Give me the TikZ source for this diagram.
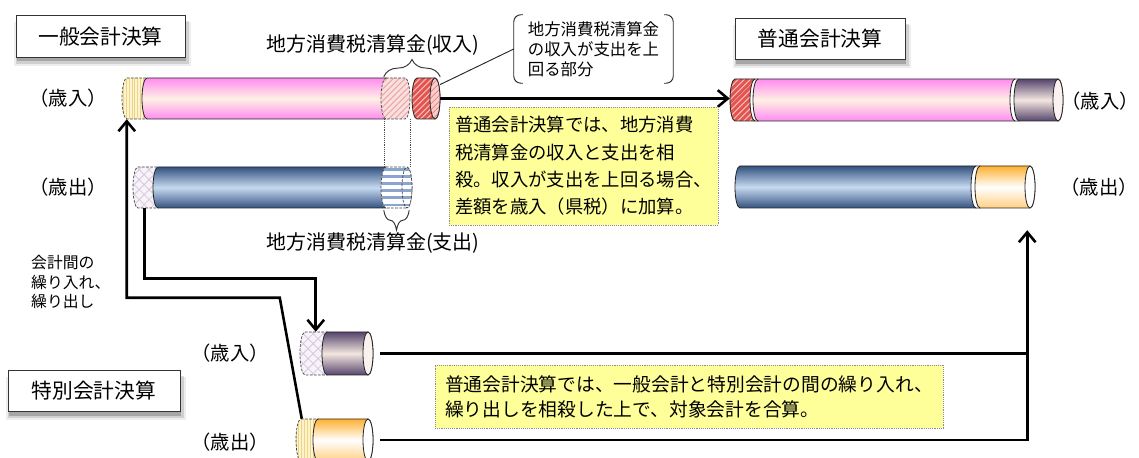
\documentclass[tikz,border=0pt]{standalone}
\usepackage{fontspec}
\setmainfont{Noto Sans CJK JP}
\usetikzlibrary{arrows.meta,calc,fit,patterns.meta,decorations.pathreplacing,shadows}

\definecolor{pinkE}{HTML}{FF8CF0}
\definecolor{creamC}{HTML}{FFF0E4}
\definecolor{blueE}{HTML}{34527F}
\definecolor{blueM}{HTML}{C6D9F0}
\definecolor{mauveE}{HTML}{56456C}
\definecolor{mauveM}{HTML}{F4E6E0}
\definecolor{orangeE}{HTML}{FFB030}
\definecolor{redH}{HTML}{E25450}
\definecolor{redS}{HTML}{F6B8B4}
\definecolor{pinkL}{HTML}{F9E0DE}
\definecolor{pinkLS}{HTML}{EBAAA8}
\definecolor{yelL}{HTML}{FFF3CC}
\definecolor{yelS}{HTML}{EAD38A}
\definecolor{lavL}{HTML}{F7F3F9}
\definecolor{lavS}{HTML}{D5CADD}
\definecolor{stripeB}{HTML}{8CA5CC}
\definecolor{noteY}{HTML}{FFFF99}

% cylinder segment: name, x1, x2, y centre, half height, style
\newcommand\mycyl[6]{%
  \path[#6] (#2,#4-#5) -- (#3,#4-#5) arc[start angle=-90,end angle=90,x radius=5,y radius=#5]
    -- (#2,#4+#5) arc[start angle=90,end angle=270,x radius=5,y radius=#5] -- cycle;
  \node[fit={(#2-5,#4-#5) (#3+5,#4+#5)},inner sep=0pt] (#1) {};
}
% end cap: x, y centre, half height, style
\newcommand\mycap[4]{\path[#4] (#1,#2) ellipse[x radius=5,y radius=#3];}

\tikzset{
  solidseg/.style={draw=black!85, line width=0.7pt},
  dashseg/.style={draw=black!75, line width=0.6pt, dash pattern=on 2.2pt off 1.3pt},
  pinkbody/.style={solidseg, top color=pinkE, bottom color=pinkE, middle color=creamC},
  bluebody/.style={solidseg, top color=blueE, bottom color=blueE, middle color=blueM},
  mauvebody/.style={solidseg, top color=mauveE, bottom color=mauveE, middle color=mauveM},
  orangebody/.style={solidseg, top color=orangeE, bottom color=orangeE!60, middle color=white},
  spacer/.style={solidseg, fill=white},
  rhatch/.style={solidseg, preaction={fill=redH},
    preaction={pattern={Lines[angle=45,distance=4pt,line width=1.3pt]}, pattern color=redS}},
  rcap/.style={solidseg, preaction={fill=redS!70},
    preaction={pattern={Lines[angle=45,distance=4pt,line width=1pt]}, pattern color=redH!70}},
  lhatch/.style={dashseg, preaction={fill=pinkL},
    preaction={pattern={Lines[angle=45,distance=4pt,line width=1.3pt]}, pattern color=pinkLS}},
  yelseg/.style={dashseg, preaction={fill=yelL},
    preaction={pattern={Lines[angle=90,distance=2.5pt,line width=0.5pt]}, pattern color=yelS}},
  lavseg/.style={dashseg, preaction={fill=lavL},
    preaction={pattern={Hatch[angle=45,distance=6pt,line width=0.7pt]}, pattern color=lavS}},
  stripeseg/.style={dashseg, preaction={fill=white},
    preaction={pattern={Lines[angle=0,distance=6pt,line width=2.4pt]}, pattern color=stripeB}},
  mauvecap/.style={solidseg, fill=mauveM!50},
  whitecap/.style={solidseg, fill=white},
  conn/.style={line width=2.2pt, black},
  arr/.style={-{Straight Barb[length=0.3cm,width=0.5cm]}},
  thinline/.style={line width=0.8pt, black!85},
  dotline/.style={line width=0.6pt, black!70, densely dotted},
  bracemark/.style={line width=0.8pt, black!80, decorate},
  tbox/.style={draw=black!80, line width=0.8pt, fill=white, inner sep=0pt, minimum height=1.24cm,
    font=\fontsize{17.7}{21}\selectfont,
    general shadow={fill=black, opacity=0.07, shadow xshift=1.5pt, shadow yshift=-6pt, shadow scale=1.05},
    general shadow={fill=black, opacity=0.12, shadow xshift=1.5pt, shadow yshift=-5pt, shadow scale=1.025},
    general shadow={fill=black, opacity=0.2, shadow xshift=1pt, shadow yshift=-3.5pt}},
  note/.style={draw=black!45, densely dotted, line width=0.6pt, fill=noteY, inner sep=0pt, align=left},
  yl/.style={inner sep=0pt, font=\fontsize{16.5}{20}\selectfont},
}

\begin{document}
\begin{tikzpicture}[x=0.03cm,y=-0.03cm]
\useasboundingbox (0,0) rectangle (1139,458);
\clip (0,0) rectangle (1139,458);

% title boxes
\node[tbox, minimum width=5.07cm] (tGen) at (100.5,36.5) {一般会計決算};
\node[tbox, minimum width=5.10cm] (tNorm) at (820,39) {普通会計決算};
\node[tbox, minimum width=5.16cm] (tSpec) at (94,391) {特別会計決算};

% general account: revenue
\mycyl{gInY}{127}{147}{98.5}{20.5}{yelseg}
\mycyl{gInP}{147}{386}{98.5}{20.5}{pinkbody}
\mycyl{gInL}{386}{405}{98.5}{20.5}{lhatch}
\mycyl{gInR}{417}{435}{98.5}{20.5}{rhatch}
\mycap{435}{98.5}{20.5}{rcap}

% general account: expenditure
\mycyl{gOutX}{138}{158}{187.5}{20.5}{lavseg}
\mycyl{gOutB}{158}{386}{187.5}{20.5}{bluebody}
\mycyl{gOutS}{386}{407}{187.5}{20.5}{stripeseg}
\mycap{407}{187.5}{20.5}{stripeseg}

% ordinary account: revenue
\mycyl{nInR}{735}{755}{100}{21}{rhatch}
\mycyl{spA}{755}{758}{100}{21}{spacer}
\mycyl{nInP}{758}{1015}{100}{21}{pinkbody}
\mycyl{spB}{1015}{1019}{100}{21}{spacer}
\mycyl{nInM}{1019}{1058}{100}{21}{mauvebody}
\mycap{1058}{100}{21}{mauvecap}

% ordinary account: expenditure
\mycyl{nOutB}{740}{976}{187}{21}{bluebody}
\mycyl{spC}{976}{980}{187}{21}{spacer}
\mycyl{nOutO}{980}{1030}{187}{21}{orangebody}
\mycap{1030}{187}{21}{whitecap}

% special account
\mycyl{sInX}{305}{327}{353.5}{21.5}{lavseg}
\mycyl{sInM}{327}{368}{353.5}{21.5}{mauvebody}
\mycap{368}{353.5}{21.5}{mauvecap}
\mycyl{sOutY}{301}{318}{440}{21}{yelseg}
\mycyl{sOutO}{318}{368}{440}{21}{orangebody}
\mycap{368}{440}{21}{whitecap}

% row labels
\node[yl] (lGI) at (68,98) {（歳入）};
\node[yl] (lGO) at (68,187) {（歳出）};
\node[yl, anchor=east] (lNI) at (1139,101) {（歳入）};
\node[yl, anchor=east] (lNO) at (1138,187) {（歳出）};
\node[yl] (lSI) at (230,353) {（歳入）};
\node[yl] (lSO) at (230,442) {（歳出）};

% dotted guides between the clearing parts
\coordinate (dA) at ($(gInL.south west)+(4,0)$);
\coordinate (dB) at (gInL.south east);
\draw[dotline] (dA) -- (dA |- gOutS.north);
\draw[dotline] (dB) -- (dB |- gOutS.north);

% braces and their labels
\draw[bracemark, decoration={brace, amplitude=0.52cm}]
  ($(gInL.north west)+(3,-1)$) -- ($(gInR.north east)+(0,-1)$);
\node[inner sep=0pt, font=\fontsize{17}{20}\selectfont] (labIn) at (373,45) {地方消費税清算金(収入)};
\draw[bracemark, decoration={brace, amplitude=0.6cm}]
  ($(gOutS.south east)+(-3,2)$) -- ($(gOutS.south west)+(3,2)$);
\node[inner sep=0pt, font=\fontsize{17}{20}\selectfont] (labOut) at (373,243) {地方消費税清算金(支出)};

% bracket callout
\node[inner sep=0pt, minimum width=4.77cm, minimum height=2.04cm, align=left,
  font=\fontsize{14}{17}\selectfont] (bub) at (593.5,49) {地方消費税清算金\\の収入が支出を上\\回る部分};
\draw[thinline, rounded corners=6pt] ($(bub.north west)+(9,0)$) -- (bub.north west) -- (bub.south west) -- ($(bub.south west)+(9,0)$);
\draw[thinline, rounded corners=6pt] ($(bub.north east)+(-9,0)$) -- (bub.north east) -- (bub.south east) -- ($(bub.south east)+(-9,0)$);
\draw[thinline] ($(gInR.east)+(0,-14)$) -- (bub.west);

% transfer of the surplus
\draw[conn, arr] (gInR.east) -- (gInR.east -| nInR.west);

% transfers between accounts
\draw[conn, arr] ($(sOutY.north west)+(6,0)$) -- ++(-22,-121) -| ($(gInY.south west)+(5,0)$);
\draw[conn, arr] ($(gOutX.south west)+(12,0)$) -- ++(0,70) -| ($(sInX.north west)+(16,0)$);

% special accounts merged into ordinary account
\coordinate (upTip) at ($(nOutO.south east)+(-8,22)$);
\coordinate (sInEnd) at ($(sInM.east)+(7,0)$);
\draw[conn, arr] ($(sOutO.east)+(7,0)$) -| (upTip);
\draw[conn] (sInEnd) -- (sInEnd -| upTip);

% side label
\node[inner sep=0pt, anchor=west, align=left, font=\fontsize{13.5}{17}\selectfont] (lTr) at (31,282)
  {会計間の\\繰り入れ、\\繰り出し};

% notes
\node[note, minimum width=8.07cm, minimum height=3.54cm, font=\fontsize{15.65}{23.4}\selectfont] (note1) at (583.5,166)
  {普通会計決算では、地方消費\\税清算金の収入と支出を相\\殺。収入が支出を上回る場合、\\差額を歳入（県税）に加算。};
\node[note, minimum width=15.24cm, minimum height=1.89cm, font=\fontsize{16}{21.3}\selectfont] (note2) at (689,396.5)
  {普通会計決算では、一般会計と特別会計の間の繰り入れ、\\繰り出しを相殺した上で、対象会計を合算。};
\end{tikzpicture}
\end{document}
